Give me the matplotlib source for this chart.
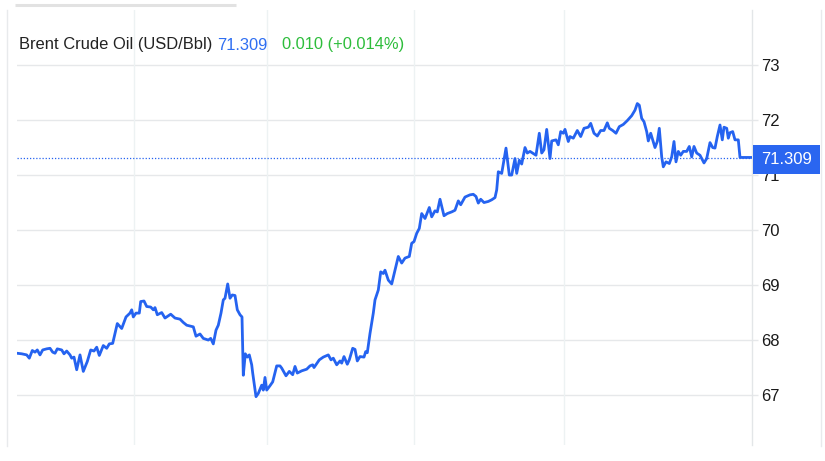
import matplotlib
matplotlib.use("Agg")
import matplotlib.pyplot as plt
from matplotlib.lines import Line2D
from matplotlib.patches import Rectangle
from matplotlib.transforms import blended_transform_factory

# ---------------- data ----------------
title = "Brent Crude Oil (USD/Bbl)"
last_price = 71.309
change_text = "0.010 (+0.014%)"
y_ticks = [67, 68, 69, 70, 71, 72, 73]
session_breaks = [134, 267, 414, 564]

t = [17.0, 21.7, 26.7, 29.3, 32.3, 35.0, 37.3, 40.0, 42.7, 46.7, 50.0, 52.7, 55.0, 57.3, 61.7,
     64.0, 66.7, 70.0, 71.7, 74.0, 76.7, 80.0, 83.3, 87.3, 90.7, 94.0, 96.7, 99.3, 103.3, 106.7,
     109.3, 112.7, 117.3, 121.7, 126.0, 130.0, 131.7, 133.3, 136.0, 139.3, 140.7, 144.0, 146.7,
     150.7, 153.3, 155.0, 157.3, 161.7, 165.0, 170.7, 175.0, 180.0, 183.3, 186.7, 193.3, 196.0,
     200.0, 203.3, 208.3, 210.7, 213.3, 216.0, 218.3, 221.0, 223.3, 225.0, 227.7, 230.0, 232.3,
     235.0, 237.3, 240.0, 242.0, 243.3, 245.3, 247.3, 249.3, 251.7, 252.7, 256.0, 258.3, 261.7,
     263.3, 265.0, 266.7,
     270.0, 272.7, 276.7, 280.0, 281.7, 286.0, 289.3, 292.7, 295.0, 297.3, 301.7, 306.7, 310.0,
     312.7, 314.0, 319.3, 323.3, 328.3, 331.0, 333.3, 336.7, 340.0, 341.7, 344.0, 347.3, 349.3,
     352.7, 355.0, 357.3, 360.0, 364.0, 365.7, 367.3, 370.0, 373.3,
     375.0, 378.3, 380.7, 383.3, 385.0, 388.3, 391.7, 395.0, 398.3, 401.7, 405.0, 409.3, 411.7,
     414.0, 416.7, 419.3, 421.7, 425.0, 429.3, 431.7, 435.0, 437.3, 440.0, 444.0, 447.3, 451.7,
     455.0, 458.3, 460.7, 465.0, 470.0, 473.3, 476.0, 478.3, 480.7, 484.0, 488.3, 491.7, 495.0,
     496.7, 498.3, 501.7, 506.0, 509.3, 511.7, 515.0, 516.7, 519.3, 521.7, 525.0, 527.3, 530.0,
     536.0, 539.3, 541.7, 544.0, 546.7, 550.0, 551.7, 556.0, 558.3, 560.7, 563.3, 565.0, 568.3,
     570.0, 573.3, 577.3, 580.7, 584.0, 588.3, 590.7, 594.0, 597.3, 600.7, 604.0, 607.3, 609.3,
     612.7, 616.0, 619.3, 623.3, 627.3, 631.7, 635.0, 637.3, 639.3, 641.7, 644.0, 646.7, 648.3,
     650.7, 652.7, 655.0, 657.3, 659.3, 661.7, 663.3, 666.0, 669.3, 671.7, 674.0, 676.0, 678.3,
     680.7, 683.3, 686.7, 689.3, 691.7, 694.0, 696.7, 700.0, 704.0, 706.7, 710.0, 712.7, 715.0,
     717.3, 720.0, 722.3, 724.0, 726.7, 728.3, 730.0, 732.7, 735.0, 738.3, 740.0, 752.0]

price = [67.75, 67.74, 67.72, 67.66, 67.80, 67.77, 67.81, 67.72, 67.81, 67.83, 67.84, 67.77, 67.75,
         67.83, 67.81, 67.74, 67.79, 67.72, 67.66, 67.68, 67.45, 67.72, 67.42, 67.60, 67.81, 67.79,
         67.86, 67.71, 67.89, 67.84, 67.92, 67.93, 68.29, 68.20, 68.41, 68.48, 68.54, 68.41, 68.48,
         68.48, 68.69, 68.70, 68.60, 68.59, 68.54, 68.58, 68.45, 68.49, 68.39, 68.46, 68.39, 68.37,
         68.31, 68.26, 68.23, 68.06, 68.10, 68.02, 67.99, 68.02, 67.92, 68.17, 68.26, 68.48, 68.72,
         68.75, 69.01, 68.75, 68.81, 68.80, 68.54, 68.45, 68.41, 67.35, 67.74, 67.68, 67.72, 67.54,
         67.39, 66.96, 67.02, 67.17, 67.08, 67.31, 67.08,
         67.16, 67.23, 67.52, 67.52, 67.48, 67.34, 67.42, 67.36, 67.51, 67.39, 67.43, 67.46, 67.52,
         67.54, 67.49, 67.63, 67.68, 67.72, 67.63, 67.66, 67.54, 67.61, 67.57, 67.69, 67.55, 67.63,
         67.84, 67.82, 67.61, 67.69, 67.68, 67.78, 67.76, 68.11, 68.48,
         68.72, 68.90, 69.23, 69.20, 69.26, 69.08, 69.01, 69.26, 69.51, 69.39, 69.48, 69.51, 69.75,
         69.78, 69.93, 70.02, 70.29, 70.20, 70.40, 70.23, 70.34, 70.32, 70.55, 70.25, 70.29, 70.32,
         70.35, 70.52, 70.45, 70.59, 70.63, 70.64, 70.60, 70.48, 70.55, 70.49, 70.51, 70.54, 70.58,
         70.72, 71.05, 71.02, 71.48, 70.99, 70.99, 71.29, 71.02, 71.26, 71.19, 71.49, 71.39, 71.42,
         71.35, 71.75, 71.39, 71.45, 71.82, 71.29, 71.61, 71.63, 71.54, 71.78, 71.75, 71.82, 71.60,
         71.69, 71.66, 71.80, 71.69, 71.84, 71.86, 71.93, 71.75, 71.70, 71.80, 71.80, 71.94, 71.84,
         71.80, 71.75, 71.87, 71.91, 71.98, 72.07, 72.17, 72.29, 72.26, 72.02, 71.96, 71.78, 71.61,
         71.75, 71.63, 71.49, 71.60, 71.84, 71.32, 71.14, 71.23, 71.20, 71.32, 71.60, 71.23, 71.42,
         71.35, 71.42, 71.42, 71.51, 71.32, 71.51, 71.39, 71.35, 71.21, 71.29, 71.58, 71.49, 71.48,
         71.69, 71.90, 71.63, 71.86, 71.84, 71.66, 71.76, 71.78, 71.63, 71.63, 71.31, 71.31]

# ---------------- style ----------------
W, H, DPI = 825, 461, 100
LINE_BLUE = "#2563f0"
TEXT_BLUE = "#2f6ff2"
GREEN = "#2ebd3c"
GRID_H = "#e6e8ea"
GRID_V = "#edf2f3"
plt.rcParams["font.family"] = ["Liberation Sans", "DejaVu Sans"]

fig = plt.figure(figsize=(W / DPI, H / DPI), dpi=DPI)
fig.patch.set_facecolor("white")

ax_l, ax_r, ax_t, ax_b = 17, 752, 10, 445
ax = fig.add_axes([ax_l / W, 1 - ax_b / H, (ax_r - ax_l) / W, (ax_b - ax_t) / H])

# y-scale: 73 at y=64.5px, 55 px per unit
px_per_unit = 55.0
y73 = 64.5
ymax = 73 + (y73 - ax_t) / px_per_unit
ymin = 73 - (ax_b - y73) / px_per_unit
ax.set_ylim(ymin, ymax)
ax.set_xlim(ax_l, ax_r)

for yv in y_ticks:
    ax.axhline(yv, color=GRID_H, lw=1.0, zorder=1)
for xv in session_breaks:
    ax.axvline(xv, color=GRID_V, lw=1.0, zorder=1)

ax.plot(t, price, color=LINE_BLUE, lw=2.0, solid_joinstyle="round", zorder=3)
ax.axhline(last_price, color=LINE_BLUE, lw=0.9, ls=(0, (1, 1.5)), zorder=2)

for s in ["top", "left", "bottom"]:
    ax.spines[s].set_visible(False)
ax.spines["right"].set_color("#e3e6e8")
ax.spines["right"].set_linewidth(1.0)
ax.set_xticks([])
ax.yaxis.tick_right()
ax.set_yticks(y_ticks)
ax.set_yticklabels([str(v) for v in y_ticks])
ax.tick_params(axis="y", length=4, width=1, color=GRID_H, pad=2.5,
               labelsize=12, labelcolor="#1a1a1a")

# price label box
trans = blended_transform_factory(ax.transAxes, ax.transData)
box_h = 29 / px_per_unit
box_w = 67 / (ax_r - ax_l)
ax.add_patch(Rectangle((1.0015, last_price - box_h / 2 - 0.03), box_w, box_h,
                       transform=trans, facecolor="#2a66f0", edgecolor="none",
                       clip_on=False, zorder=10))
ax.text(1.0015 + box_w / 2, last_price - 0.03, f"{last_price:.3f}", transform=trans,
        ha="center", va="center", color="white", fontsize=12, zorder=11, clip_on=False)

# frame lines
fig.add_artist(Line2D([7 / W, 7 / W], [1 - 446 / H, 1 - 10 / H], color="#e8eaec", lw=1.0))
fig.add_artist(Line2D([821 / W, 821 / W], [1 - 446 / H, 1 - 10 / H], color="#e8eaec", lw=1.0))
fig.add_artist(Line2D([15 / W, 236 / W], [1 - 5 / H, 1 - 5 / H], color="#e2e2e2", lw=2.2,
                      solid_capstyle="butt"))

# header
fig.canvas.draw()
renderer = fig.canvas.get_renderer()
hy = 1 - 45 / H
fs = 11.9
t1 = fig.text(19 / W, hy, title, color="#222222", fontsize=fs, va="center", ha="left")
x1 = t1.get_window_extent(renderer).x1
t2 = fig.text((x1 + 5) / W, hy, f"{last_price:.3f}", color=TEXT_BLUE, fontsize=fs,
              va="center", ha="left")
x2 = t2.get_window_extent(renderer).x1
fig.text((x2 + 14) / W, hy, change_text, color=GREEN, fontsize=fs, va="center", ha="left")

fig.savefig("out.png", dpi=DPI, facecolor="white")
